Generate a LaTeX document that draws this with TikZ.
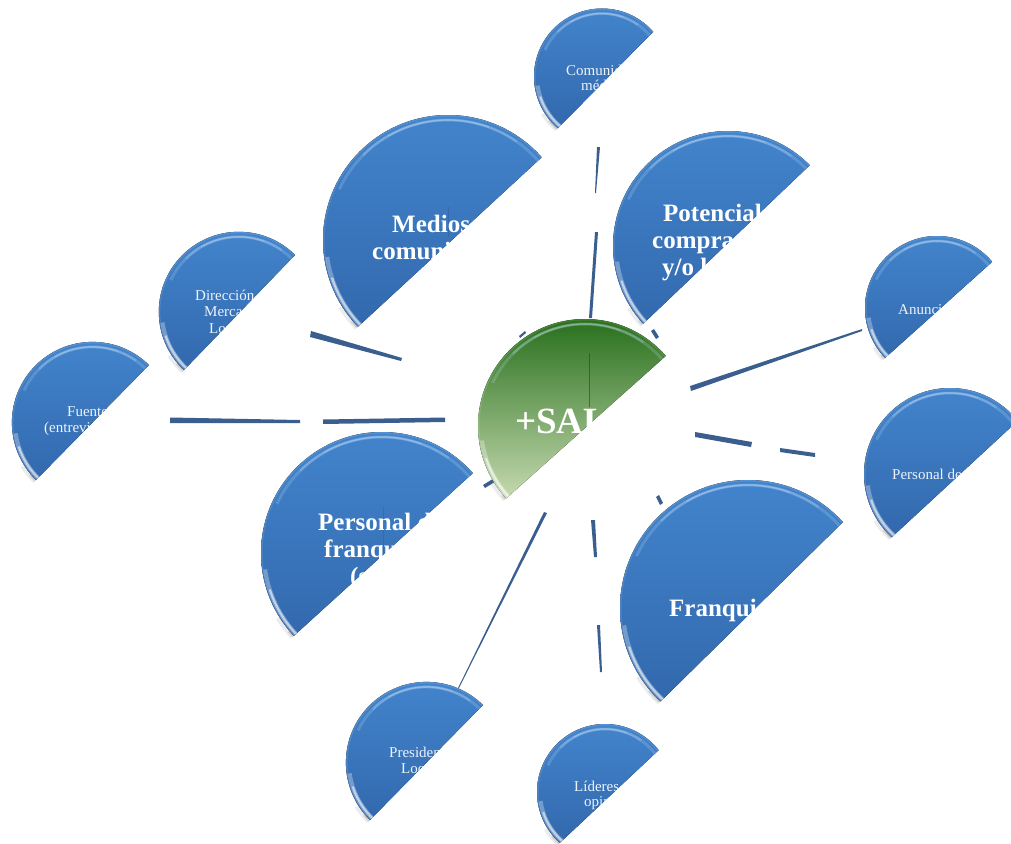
\documentclass[tikz,border=0pt]{standalone}
\usepackage{fontspec}
\setmainfont{Liberation Serif}
\usetikzlibrary{calc}

\definecolor{bubtop}{RGB}{66,132,204}
\definecolor{bubbot}{RGB}{48,100,168}
\definecolor{hubtop}{RGB}{40,112,28}
\definecolor{hubmid}{RGB}{112,165,80}
\definecolor{hubbot}{RGB}{228,238,205}
\definecolor{linkcol}{RGB}{58,95,142}
\definecolor{txtcol}{RGB}{238,243,250}
\definecolor{rimlight}{RGB}{200,228,255}

\tikzset{
  bluebub/.style={top color=bubtop, bottom color=bubbot},
  greenbub/.style={top color=hubtop, middle color=hubmid, bottom color=hubbot},
  smalltext/.style={font=\fontsize{15}{17}\selectfont, text=txtcol, inner sep=0pt, anchor=base west},
  bigtext/.style={font=\fontsize{25}{27}\selectfont\bfseries, text=white, inner sep=0pt, anchor=base west},
  hubtext/.style={font=\fontsize{37}{40}\selectfont\bfseries, text=white, inner sep=0pt, anchor=base west},
  link/.style={fill=linkcol},
}

% #1 centre, #2 radius, #3 upper cut point, #4 lower cut point, #5 fill style, #6 labels
\newcommand\drawbubble[6]{%
  \begin{scope}
    \coordinate (cutA) at ($(#3)!-1!(#4)$);
    \coordinate (cutB) at ($(#4)!-1!(#3)$);
    \clip (cutA) -- (cutB) -- ($(cutB)+(-500,-500)$) -- ($(cutA)+(-500,-500)$) -- cycle;
    % soft shadow under the lower left rim
    \draw[black!30, line width=4, opacity=.25] (#1) ++(-212:{#2+2}) arc[start angle=-212, end angle=-250, radius={#2+2}];
    \draw[black!40, line width=2, opacity=.35] (#1) ++(-220:{#2+1}) arc[start angle=-220, end angle=-250, radius={#2+1}];
    \fill[#5] (#1) circle[radius=#2];
    % bevelled rim
    \draw[white, opacity=.10, line width=1.5] (#1) circle[radius={#2-0.8}];
    \draw[rimlight, opacity=.20, line width=3] (#1) ++(-35:{#2-5}) arc[start angle=-35, end angle=-155, radius={#2-5}];
    \draw[rimlight, opacity=.25, line width=2] (#1) ++(-55:{#2-5}) arc[start angle=-55, end angle=-135, radius={#2-5}];
    \draw[white, opacity=.20, line width=1.2] (#1) ++(-70:{#2-5}) arc[start angle=-70, end angle=-120, radius={#2-5}];
    \draw[white, opacity=.30, line width=4] (#1) ++(-188:{#2-3}) arc[start angle=-188, end angle=-240, radius={#2-3}];
    \draw[white, opacity=.55, line width=2.2] (#1) ++(-198:{#2-3}) arc[start angle=-198, end angle=-232, radius={#2-3}];
    #6
  \end{scope}}

\begin{document}
\begin{tikzpicture}[x=1pt, y=-1pt]
  \useasboundingbox (0,0) rectangle (1011,843);

  % connector fragments around the hub
  \fill[link] (170,417.5) -- (300,420) -- (300,423) -- (170,423) -- cycle;
  \fill[link] (323,419.5) -- (445,417.5) -- (445,422) -- (323,424) -- cycle;
  \fill[link] (311,331) -- (402,358) -- (401,361) -- (310,337) -- cycle;
  \fill[link] (519,336) -- (525,331) -- (526,333) -- (520,338) -- cycle;
  \fill[link] (597,147) -- (600,147) -- (596,193) -- (595,193) -- cycle;
  \fill[link] (595,232) -- (598,232) -- (592,318) -- (589,318) -- cycle;
  \fill[link] (651,331) -- (654,329) -- (659,337) -- (656,339) -- cycle;
  \fill[link] (690,386) -- (862,329) -- (862,331) -- (691,391) -- cycle;
  \fill[link] (695,432) -- (752,442) -- (751,447) -- (695,437) -- cycle;
  \fill[link] (780,448) -- (815,453) -- (815,457) -- (780,452) -- cycle;
  \fill[link] (656,497) -- (659,495) -- (663,503) -- (660,505) -- cycle;
  \fill[link] (591,520) -- (595,520) -- (597,557) -- (594,557) -- cycle;
  \fill[link] (597,625) -- (600,625) -- (602,672) -- (600,672) -- cycle;
  \fill[link] (544,512) -- (547,513) -- (459,688) -- (458,688) -- cycle;
  \fill[link] (483,485) -- (496,477) -- (498,480) -- (485,488) -- cycle;

  % outer bubbles
  \drawbubble{602,76.5}{68}{653,32}{558,128}{bluebub}{%
    \node[smalltext] (com1) at (566,75) {Comunidad};
    \node[smalltext] (com2) at (581,90) {médica};}
  \drawbubble{92.5,422.5}{80.6}{149,365}{36,480}{bluebub}{%
    \node[smalltext] (fue1) at (67,416) {Fuentes};
    \node[smalltext] (fue2) at (44,432) {(entrevistados)};}
  \drawbubble{238.8,311.8}{80}{295,255}{184,370}{bluebub}{%
    \node[smalltext] (dir1) at (195,300) {Dirección de};
    \node[smalltext] (dir2) at (204,316) {Mercadeo};
    \node[smalltext] (dir3) at (209,333) {Local};}
  \drawbubble{937,308}{72}{992,262}{885,358}{bluebub}{%
    \node[smalltext] (anu1) at (898,314) {Anunciantes};}
  \drawbubble{950,474}{86}{1011,427}{892,537}{bluebub}{%
    \node[smalltext] (pven1) at (892,479) {Personal de ventas};}
  \drawbubble{426.5,762.5}{80.6}{483,705}{370,820}{bluebub}{%
    \node[smalltext] (pre1) at (389,757) {Presidente};
    \node[smalltext] (pre2) at (401,773) {Local};}
  \drawbubble{605,792}{68}{662,747}{565,838}{bluebub}{%
    \node[smalltext] (lid1) at (574,791) {Líderes de};
    \node[smalltext] (lid2) at (584,806) {opinión};}

  % large bubbles
  \drawbubble{448,240}{125}{542,157}{362,323}{bluebub}{%
    \draw[bubbot!80!black, opacity=.3, line width=.5] (448,207) -- (448,237);
    \node[bigtext] (med1) at (392,232) {Medios de};
    \node[bigtext] (med2) at (372,259) {comunicación};}
  \drawbubble{728,246}{115}{810,165}{645,322}{bluebub}{%
    \node[bigtext] (pot1) at (663,221) {Potenciales};
    \node[bigtext] (pot2) at (652,248) {compradores};
    \node[bigtext] (pot3) at (662,275) {y/o lectores};}
  \drawbubble{382,553}{121}{473,473}{297,633}{bluebub}{%
    \draw[bubbot!80!black, opacity=.3, line width=.5] (383,507) -- (383,587);
    \node[bigtext] (pfr1) at (318,530) {Personal de};
    \node[bigtext] (pfr2) at (324,557) {franquicias};
    \node[bigtext] (pfr3) at (350,584) {(socios)};}
  \drawbubble{748,608}{128}{843,522}{662,700}{bluebub}{%
    \node[bigtext] (fra1) at (669,616) {Franquiciados};}

  % hub
  \drawbubble{585,426}{107}{669,353}{510,495}{greenbub}{%
    \draw[hubtop!70!black, opacity=.6, line width=.6] (589,353) -- (589,407);
    \node[hubtext] (hub) at (515,433) {+SALUD};}
\end{tikzpicture}
\end{document}
